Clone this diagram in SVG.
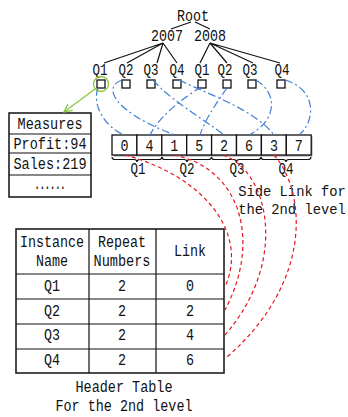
<svg xmlns="http://www.w3.org/2000/svg" width="348" height="417" viewBox="0 0 348 417">
<defs>
<style>
text{font-family:"Liberation Mono","DejaVu Sans Mono",monospace;font-size:16px;fill:#111;text-anchor:middle}
.ln{stroke:#111;stroke-width:1.2;fill:none}
.bx{fill:#fff;stroke:#111;stroke-width:1.3}
.cell{fill:#fff;stroke:#111;stroke-width:1.3}
.tb{fill:#fff;stroke:#111;stroke-width:1.5}
.blue{stroke:#3f7fd8;stroke-width:1.2;fill:none;stroke-dasharray:8,3,2,3}
.red{stroke:#e8141c;stroke-width:1.2;fill:none;stroke-dasharray:4,3}
</style>
<marker id="garrow" markerWidth="10" markerHeight="10" refX="8" refY="5" orient="auto" markerUnits="userSpaceOnUse">
<path d="M0,1 L8,5 L0,9" fill="none" stroke="#8dc63f" stroke-width="1.3"/>
</marker>
</defs>
<rect width="348" height="417" fill="#fff"/>

<g id="tree">
<text x="193" y="21" textLength="32" lengthAdjust="spacingAndGlyphs">Root</text>
<text x="167" y="41" textLength="32" lengthAdjust="spacingAndGlyphs">2007</text>
<text x="210" y="41" textLength="32" lengthAdjust="spacingAndGlyphs">2008</text>
<path class="ln" d="M191,22 L171,29 M195,22 L210,29"/>
<path class="ln" d="M163,43 L104,63 M163,43 L127,63 M163,43 L157,63 M163,43 L177,63"/>
<path class="ln" d="M210,43 L200,63 M210,43 L227,63 M210,43 L253,63 M210,43 L280,63"/>
</g>

<g id="level2">
<g id="n0"><text x="100" y="75" textLength="15" lengthAdjust="spacingAndGlyphs">Q1</text><rect class="bx" x="97" y="80" width="8" height="8"/></g>
<g id="n1"><text x="126" y="75" textLength="15" lengthAdjust="spacingAndGlyphs">Q2</text><rect class="bx" x="122" y="80" width="8" height="8"/></g>
<g id="n2"><text x="151" y="75" textLength="15" lengthAdjust="spacingAndGlyphs">Q3</text><rect class="bx" x="147" y="80" width="8" height="8"/></g>
<g id="n3"><text x="177" y="75" textLength="15" lengthAdjust="spacingAndGlyphs">Q4</text><rect class="bx" x="173" y="80" width="8" height="8"/></g>
<g id="n4"><text x="202" y="75" textLength="15" lengthAdjust="spacingAndGlyphs">Q1</text><rect class="bx" x="198" y="80" width="8" height="8"/></g>
<g id="n5"><text x="225" y="75" textLength="15" lengthAdjust="spacingAndGlyphs">Q2</text><rect class="bx" x="223" y="80" width="8" height="8"/></g>
<g id="n6"><text x="250" y="75" textLength="15" lengthAdjust="spacingAndGlyphs">Q3</text><rect class="bx" x="248" y="80" width="8" height="8"/></g>
<g id="n7"><text x="282" y="75" textLength="15" lengthAdjust="spacingAndGlyphs">Q4</text><rect class="bx" x="277" y="80" width="8" height="8"/></g>
</g>

<g id="measures">
<rect class="tb" x="9" y="113" width="82" height="84"/>
<path class="ln" d="M9,134 H91 M9,153 H91 M9,175 H91"/>
<text x="50" y="129" textLength="65" lengthAdjust="spacingAndGlyphs">Measures</text>
<text x="50" y="149" textLength="73" lengthAdjust="spacingAndGlyphs">Profit:94</text>
<text x="50" y="169" textLength="73" lengthAdjust="spacingAndGlyphs">Sales:219</text>
<text x="50" y="189" textLength="31" lengthAdjust="spacingAndGlyphs" style="font-weight:bold">......</text>
</g>

<g id="array">
<rect x="113.5" y="136.5" width="199" height="20" fill="#999"/>
<rect class="cell" x="112" y="135" width="24.9" height="20"/>
<rect class="cell" x="136.9" y="135" width="24.9" height="20"/>
<rect class="cell" x="161.8" y="135" width="24.9" height="20"/>
<rect class="cell" x="186.7" y="135" width="24.9" height="20"/>
<rect class="cell" x="211.6" y="135" width="24.9" height="20"/>
<rect class="cell" x="236.5" y="135" width="24.9" height="20"/>
<rect class="cell" x="261.4" y="135" width="24.9" height="20"/>
<rect class="cell" x="286.3" y="135" width="24.9" height="20"/>
<text x="124.5" y="151" textLength="8" lengthAdjust="spacingAndGlyphs">0</text>
<text x="149.4" y="151" textLength="8" lengthAdjust="spacingAndGlyphs">4</text>
<text x="174.3" y="151" textLength="8" lengthAdjust="spacingAndGlyphs">1</text>
<text x="199.2" y="151" textLength="8" lengthAdjust="spacingAndGlyphs">5</text>
<text x="224.1" y="151" textLength="8" lengthAdjust="spacingAndGlyphs">2</text>
<text x="249" y="151" textLength="8" lengthAdjust="spacingAndGlyphs">6</text>
<text x="273.9" y="151" textLength="8" lengthAdjust="spacingAndGlyphs">3</text>
<text x="298.8" y="151" textLength="8" lengthAdjust="spacingAndGlyphs">7</text>
<path class="ln" d="M112,157 q0,2.5 3,2.5 H134 q3,0 3,2.5 q0,-2.5 3,-2.5 H159 q3,0 3,-2.5"/>
<path class="ln" d="M162,157 q0,2.5 3,2.5 H184 q3,0 3,2.5 q0,-2.5 3,-2.5 H208.5 q3,0 3,-2.5"/>
<path class="ln" d="M211.5,157 q0,2.5 3,2.5 H233.5 q3,0 3,2.5 q0,-2.5 3,-2.5 H258 q3,0 3,-2.5"/>
<path class="ln" d="M261,157 q0,2.5 3,2.5 H283 q3,0 3,2.5 q0,-2.5 3,-2.5 H308 q3,0 3,-2.5"/>
<text x="138" y="174" textLength="15" lengthAdjust="spacingAndGlyphs">Q1</text>
<text x="187" y="174" textLength="15" lengthAdjust="spacingAndGlyphs">Q2</text>
<text x="237" y="174" textLength="15" lengthAdjust="spacingAndGlyphs">Q3</text>
<text x="286" y="174" textLength="15" lengthAdjust="spacingAndGlyphs">Q4</text>
</g>

<g id="sidelabel">
<text x="292" y="196" style="font-size:13.8px">Side Link for</text>
<text x="292" y="214" style="font-size:13.8px">the 2nd level</text>
</g>

<g id="header">
<rect class="tb" x="16" y="229" width="208" height="144"/>
<path class="ln" d="M16,274 H224 M16,299 H224 M16,324 H224 M16,349 H224 M89,229 V373 M156,229 V373"/>
<text x="52" y="247" textLength="64" lengthAdjust="spacingAndGlyphs">Instance</text>
<text x="52" y="266" textLength="32" lengthAdjust="spacingAndGlyphs">Name</text>
<text x="122" y="247" textLength="48" lengthAdjust="spacingAndGlyphs">Repeat</text>
<text x="122" y="266" textLength="57" lengthAdjust="spacingAndGlyphs">Numbers</text>
<text x="190" y="256" textLength="32" lengthAdjust="spacingAndGlyphs">Link</text>
<text x="52" y="291" textLength="16" lengthAdjust="spacingAndGlyphs">Q1</text><text x="122" y="291" textLength="8" lengthAdjust="spacingAndGlyphs">2</text><text x="190" y="291" textLength="8" lengthAdjust="spacingAndGlyphs">0</text>
<text x="52" y="316" textLength="16" lengthAdjust="spacingAndGlyphs">Q2</text><text x="122" y="316" textLength="8" lengthAdjust="spacingAndGlyphs">2</text><text x="190" y="316" textLength="8" lengthAdjust="spacingAndGlyphs">2</text>
<text x="52" y="340" textLength="16" lengthAdjust="spacingAndGlyphs">Q3</text><text x="122" y="340" textLength="8" lengthAdjust="spacingAndGlyphs">2</text><text x="190" y="340" textLength="8" lengthAdjust="spacingAndGlyphs">4</text>
<text x="52" y="365" textLength="16" lengthAdjust="spacingAndGlyphs">Q4</text><text x="122" y="365" textLength="8" lengthAdjust="spacingAndGlyphs">2</text><text x="190" y="365" textLength="8" lengthAdjust="spacingAndGlyphs">6</text>
<text x="124" y="392" textLength="97" lengthAdjust="spacingAndGlyphs">Header Table</text>
<text x="124" y="411" textLength="137" lengthAdjust="spacingAndGlyphs">For the 2nd level</text>
</g>

<g id="connectors">
<circle cx="101" cy="84" r="7.5" fill="none" stroke="#8dc63f" stroke-width="1.3"/>
<path d="M95,89 L64,112" stroke="#8dc63f" stroke-width="1.3" fill="none" marker-end="url(#garrow)"/>
<path class="blue" d="M98,88 C92,105 104,126 124,135"/>
<path class="blue" d="M201,87 C185,97 160,115 150,135"/>
<path class="blue" d="M122,80 C100,88 118,114 175,135"/>
<path class="blue" d="M227,88 C215,105 205,120 200,135"/>
<path class="blue" d="M153,80 C170,100 205,120 224,135"/>
<path class="blue" d="M256,80 C280,95 275,122 249,135"/>
<path class="blue" d="M179,80 C210,95 255,110 274,135"/>
<path class="blue" d="M285,80 C318,90 315,122 299,135"/>
<path class="red" d="M125,155 C200,175 250,230 225,287"/>
<path class="red" d="M174,155 C240,168 262,240 225,310"/>
<path class="red" d="M223,155 C268,170 290,260 225,335"/>
<path class="red" d="M274,155 C305,190 315,280 227,357"/>
</g>
</svg>
